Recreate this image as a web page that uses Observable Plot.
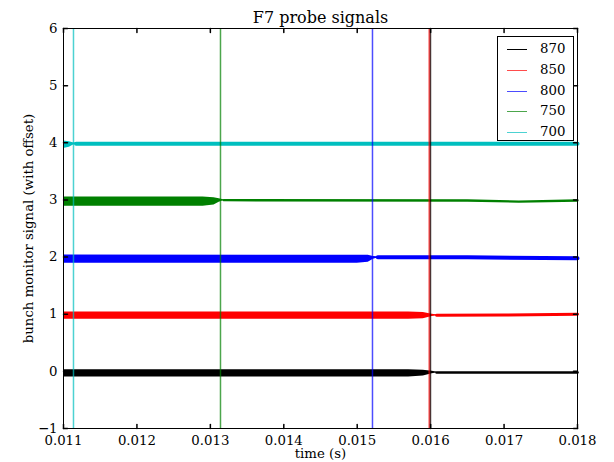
<!DOCTYPE html>
<html>
<head>
<meta charset="utf-8">
<script src="https://cdn.jsdelivr.net/npm/d3@7"></script>
<script src="https://cdn.jsdelivr.net/npm/@observablehq/plot@0.6"></script>
<style>
  html, body { margin: 0; padding: 0; background: white; }
  #wrap { position: relative; width: 614px; height: 462px; font-family: "DejaVu Serif", serif; }
  #legend { position: absolute; left: 497px; top: 36px; width: 77px; height: 105px; border: 1px solid black; background: white; box-sizing: border-box; }
  .row { position: absolute; left: 0; height: 20px; width: 100%; }
  .swatch { position: absolute; left: 9px; width: 20px; top: 10px; height: 0; border-top: 1.5px solid black; }
  .lab { position: absolute; left: 42px; top: 1px; font-size: 13.3px; line-height: 18px; }
</style>
</head>
<body>
<div id="wrap"></div>
<script>
// ---- data ----
const series = ["870", "850", "800", "750", "700"];
const colors = ["#000000", "#ff0000", "#0000ff", "#008000", "#00bfbf"];
const markerTimes = [0.015998, 0.015984, 0.015208, 0.013138, 0.011136];
const afterWidths = [2.5, 3, 4, 2.3, 4];

// noisy-band envelopes before each transition: [time, low, high]
const band870 = [[0.011, -0.10, 0.03], [0.0157, -0.10, 0.03], [0.0159, -0.08, 0.02], [0.01602, -0.04, 0.0], [0.01608, -0.03, -0.01]];
const band850 = [[0.011, 0.91, 1.04], [0.0157, 0.91, 1.04], [0.0159, 0.92, 1.03], [0.01602, 0.96, 1.0], [0.01608, 0.97, 0.99]];
const band800 = [[0.011, 1.89, 2.035], [0.0150, 1.89, 2.03], [0.01515, 1.91, 2.03], [0.01522, 1.96, 2.01], [0.01528, 1.985, 2.005]];
const band750 = [[0.011, 2.89, 3.05], [0.0129, 2.89, 3.05], [0.01305, 2.91, 3.04], [0.01312, 2.96, 3.02], [0.01318, 2.985, 3.005]];
const band700 = [[0.011, 3.90, 4.03], [0.01108, 3.92, 4.02], [0.01113, 3.955, 4.0], [0.01117, 3.975, 3.995]];

// settled signal after each transition: [time, value]
const line870 = [[0.01608, -0.02], [0.018, -0.02]];
const line850 = [[0.01608, 0.98], [0.017, 0.985], [0.018, 1.0]];
const line800 = [[0.01528, 1.995], [0.0165, 1.995], [0.018, 1.98]];
const line750 = [[0.01318, 2.995], [0.0165, 2.99], [0.0172, 2.97], [0.018, 2.99]];
const line700 = [[0.01117, 3.985], [0.018, 3.985]];

const xTicks = [0.011, 0.012, 0.013, 0.014, 0.015, 0.016, 0.017, 0.018];
const yTicks = [-1, 0, 1, 2, 3, 4, 5, 6];

const bands = [band870, band850, band800, band750, band700];
const lines = [line870, line850, line800, line750, line700];

// inward tick shape
const tickShape = { draw(ctx, l) { ctx.moveTo(0, 0); ctx.lineTo(0, -l); } };

const marks = [];
bands.forEach((b, i) => {
  marks.push(Plot.areaY(b, { x: d => d[0], y1: d => d[1], y2: d => d[2], fill: colors[i], curve: "linear" }));
});
lines.forEach((l, i) => {
  marks.push(Plot.line(l, { x: d => d[0], y: d => d[1], stroke: colors[i], strokeWidth: afterWidths[i] }));
});
// vertical markers (draw 700 first, 870 last)
for (let i = series.length - 1; i >= 0; i--) {
  marks.push(Plot.ruleX([markerTimes[i]], { stroke: colors[i], strokeOpacity: 0.7, strokeWidth: i === 1 ? 2 : 1.5 }));
}

marks.push(
  Plot.frame({ stroke: "black", strokeWidth: 1 }),
  Plot.vector(xTicks, { x: d => d, frameAnchor: "bottom", length: 4, rotate: 0, anchor: "start", shape: tickShape, stroke: "black" }),
  Plot.vector(xTicks, { x: d => d, frameAnchor: "top", length: 4, rotate: 180, anchor: "start", shape: tickShape, stroke: "black" }),
  Plot.vector(yTicks, { y: d => d, frameAnchor: "left", length: 4, rotate: 90, anchor: "start", shape: tickShape, stroke: "black" }),
  Plot.vector(yTicks, { y: d => d, frameAnchor: "right", length: 4, rotate: -90, anchor: "start", shape: tickShape, stroke: "black" }),
  Plot.axisX(xTicks, { tickSize: 0, tickPadding: 7, tickFormat: d => d.toFixed(3), label: null, fontSize: 13.3 }),
  Plot.axisY(yTicks, { tickSize: 0, tickPadding: 6, tickFormat: d => String(d).replace("-", "\u2212"), label: null, fontSize: 13.3 }),
  Plot.text(["F7 probe signals"], { frameAnchor: "top", lineAnchor: "middle", textAnchor: "middle", dy: -11, fontSize: 16 }),
  Plot.text(["bunch monitor signal (with offset)"], { frameAnchor: "left", lineAnchor: "middle", textAnchor: "middle", rotate: -90, dx: -35, fontSize: 13.3 }),
  Plot.text(["time (s)"], { frameAnchor: "bottom", lineAnchor: "middle", textAnchor: "middle", dy: 25, fontSize: 13.3 })
);

const chart = Plot.plot({
  width: 614, height: 462,
  marginLeft: 63, marginRight: 37, marginTop: 28, marginBottom: 34,
  style: { fontFamily: "DejaVu Serif", fontSize: "13.3px", background: "white", color: "black" },
  x: { domain: [0.011, 0.018] },
  y: { domain: [-1, 6] },
  marks
});

const wrap = document.getElementById("wrap");
wrap.appendChild(chart);

// legend
const legend = document.createElement("div");
legend.id = "legend";
series.forEach((s, i) => {
  const row = document.createElement("div");
  row.className = "row";
  row.style.top = (2 + i * 20.8) + "px";
  const sw = document.createElement("div");
  sw.className = "swatch";
  sw.style.borderTopColor = colors[i];
  sw.style.opacity = i === 0 ? 1 : 0.7;
  const lab = document.createElement("div");
  lab.className = "lab";
  lab.textContent = s;
  row.appendChild(sw);
  row.appendChild(lab);
  legend.appendChild(row);
});
wrap.appendChild(legend);
</script>
</body>
</html>
